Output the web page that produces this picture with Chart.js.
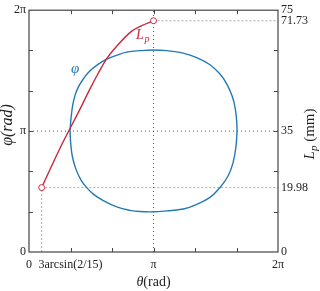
<!DOCTYPE html>
<html>
<head>
<meta charset="utf-8">
<script src="https://cdn.jsdelivr.net/npm/chart.js@4.4.0/dist/chart.umd.min.js"></script>
<style>
  html, body { margin: 0; padding: 0; background: #fff; }
</style>
</head>
<body>
<canvas id="chartCanvas" width="320" height="291"></canvas>
<script>
// tick positions and labels
var thetaTicks = [0, Math.PI / 3, 2 * Math.PI / 3, Math.PI, 4 * Math.PI / 3, 5 * Math.PI / 3, 2 * Math.PI];
var thetaLabels = ['0', '3arcsin(2/15)', '', 'π', '', '', '2π'];
var phiTicks = [0, Math.PI / 3, 2 * Math.PI / 3, Math.PI, 4 * Math.PI / 3, 5 * Math.PI / 3, 2 * Math.PI];
var phiLabels = ['0', '', '', 'π', '', '', '2π'];
var lpTicks = [0, 19.98, 37.5, 71.73, 75];
var lpLabels = ['0', '19.98', '35', '71.73', '75'];

// phi loop (rad vs rad)
var loopTheta = [1.035, 1.060, 1.103, 1.161, 1.244, 1.370, 1.539, 1.749, 1.961, 2.213, 2.465, 2.801, 3.142,
                 3.475, 3.894, 4.232, 4.567, 4.820, 4.989, 5.135, 5.211, 5.241, 5.249,
                 5.223, 5.148, 5.022, 4.820, 4.567, 4.232, 3.894, 3.475, 3.142,
                 2.801, 2.549, 2.213, 1.875, 1.623, 1.469, 1.325, 1.186, 1.093, 1.052, 1.035];
var loopPhi = [3.147, 3.470, 3.814, 4.070, 4.283, 4.496, 4.711, 4.880, 5.009, 5.111, 5.193, 5.232, 5.250,
               5.232, 5.168, 5.052, 4.865, 4.624, 4.368, 4.026, 3.685, 3.385, 3.147,
               2.744, 2.316, 1.975, 1.675, 1.418, 1.239, 1.116, 1.069, 1.044,
               1.051, 1.082, 1.172, 1.334, 1.505, 1.659, 1.847, 2.147, 2.488, 2.829, 3.147];

// Lp curve (rad vs mm)
var lpTheta = [0.32, 0.782, 1.035, 1.287, 1.539, 1.754, 1.961, 2.233, 2.592, 2.844, 3.1416];
var lpValue = [19.98, 32.2, 38.3, 44.3, 50.6, 55.6, 60.0, 64.1, 68.5, 70.2, 71.73];

// guide lines
var piRef = 3.1416;
var twoPi = 6.2832;

var blue = '#2479b5';
var red = '#c8283e';
var serif = "'Liberation Serif', 'Times New Roman', serif";
var tickFont = { family: serif, size: 12 };

function toPoints(xs, ys) {
    var pts = [];
    for (var i = 0; i < xs.length; i++) {
        pts.push({ x: xs[i], y: ys[i] });
    }
    return pts;
}

var decoPlugin = {
    id: 'deco',
    afterDraw: function (chart) {
        var ctx = chart.ctx;
        var a = chart.chartArea;
        var sx = chart.scales.x;
        var sy = chart.scales.y;
        ctx.save();

        // box
        ctx.strokeStyle = '#454545';
        ctx.lineWidth = 1.2;
        ctx.strokeRect(a.left, a.top, a.right - a.left, a.bottom - a.top);

        // inward ticks
        ctx.lineWidth = 1;
        ctx.beginPath();
        for (var i = 1; i < thetaTicks.length - 1; i++) {
            var px = Math.round(sx.getPixelForValue(thetaTicks[i])) + 0.5;
            ctx.moveTo(px, a.bottom); ctx.lineTo(px, a.bottom - 4);
            ctx.moveTo(px, a.top); ctx.lineTo(px, a.top + 4);
        }
        for (var j = 1; j < phiTicks.length - 1; j++) {
            var py = Math.round(sy.getPixelForValue(phiTicks[j])) + 0.5;
            ctx.moveTo(a.left, py); ctx.lineTo(a.left + 4, py);
            ctx.moveTo(a.right, py); ctx.lineTo(a.right - 4, py);
        }
        ctx.stroke();

        ctx.fillStyle = '#222';
        ctx.textBaseline = 'alphabetic';

        // x title
        ctx.font = 'italic 14px ' + serif;
        var w1 = ctx.measureText('θ').width;
        ctx.font = '14px ' + serif;
        var w2 = ctx.measureText('(rad)').width;
        var x0 = 153.5 - (w1 + w2) / 2;
        ctx.font = 'italic 14px ' + serif;
        ctx.fillText('θ', x0, 286);
        ctx.font = '14px ' + serif;
        ctx.fillText('(rad)', x0 + w1, 286);

        // left title
        ctx.save();
        ctx.translate(12, 125);
        ctx.rotate(-Math.PI / 2);
        ctx.font = 'italic 16px ' + serif;
        ctx.textAlign = 'center';
        ctx.fillText('φ(rad)', 0, 0);
        ctx.restore();

        // right title
        ctx.save();
        ctx.translate(314, 134);
        ctx.rotate(-Math.PI / 2);
        ctx.font = 'italic 15px ' + serif;
        var wl = ctx.measureText('L').width;
        ctx.font = 'italic 11px ' + serif;
        var wp = ctx.measureText('p').width;
        ctx.font = '15px ' + serif;
        var wm = ctx.measureText(' (mm)').width;
        var s = -(wl + wp + wm) / 2;
        ctx.font = 'italic 15px ' + serif;
        ctx.fillText('L', s, 0);
        ctx.font = 'italic 11px ' + serif;
        ctx.fillText('p', s + wl, 3);
        ctx.font = '15px ' + serif;
        ctx.fillText(' (mm)', s + wl + wp, 0);
        ctx.restore();

        // curve labels
        ctx.fillStyle = blue;
        ctx.font = 'italic 15px ' + serif;
        ctx.fillText('φ', 71, 73);
        ctx.fillStyle = red;
        ctx.font = 'italic 14px ' + serif;
        ctx.fillText('L', 136, 38.5);
        ctx.font = 'italic 10px ' + serif;
        ctx.fillText('p', 144.5, 41.5);

        ctx.restore();
    }
};

var endRadius = function (c) {
    return (c.dataIndex === 0 || c.dataIndex === lpTheta.length - 1) ? 3 : 0;
};

var chart = new Chart(document.getElementById('chartCanvas').getContext('2d'), {
    type: 'scatter',
    data: {
        datasets: [
            {
                label: 'Lp',
                data: toPoints(lpTheta, lpValue),
                yAxisID: 'lp',
                showLine: true,
                borderColor: red,
                borderWidth: 1.4,
                cubicInterpolationMode: 'monotone',
                pointRadius: endRadius,
                pointBorderColor: red,
                pointBackgroundColor: '#fff',
                pointBorderWidth: 1
            },
            {
                label: 'phi',
                data: toPoints(loopTheta, loopPhi),
                yAxisID: 'y',
                showLine: true,
                borderColor: blue,
                borderWidth: 1.4,
                tension: 0.4,
                pointRadius: 0
            },
            {
                data: [{ x: piRef, y: 0 }, { x: piRef, y: twoPi }],
                yAxisID: 'y',
                showLine: true,
                borderColor: '#555',
                borderWidth: 1,
                borderDash: [1, 3],
                pointRadius: 0
            },
            {
                data: [{ x: 0, y: piRef }, { x: twoPi, y: piRef }],
                yAxisID: 'y',
                showLine: true,
                borderColor: '#555',
                borderWidth: 1,
                borderDash: [1, 3],
                pointRadius: 0
            },
            {
                data: [{ x: lpTheta[0], y: 0 }, { x: lpTheta[0], y: lpValue[0] }, { x: twoPi, y: lpValue[0] }],
                yAxisID: 'lp',
                showLine: true,
                borderColor: '#a8a8a8',
                borderWidth: 1,
                borderDash: [2, 2],
                pointRadius: 0
            },
            {
                data: [{ x: lpTheta[lpTheta.length - 1], y: lpValue[lpValue.length - 1] }, { x: twoPi, y: lpValue[lpValue.length - 1] }],
                yAxisID: 'lp',
                showLine: true,
                borderColor: '#a8a8a8',
                borderWidth: 1,
                borderDash: [2, 2],
                pointRadius: 0
            }
        ]
    },
    options: {
        responsive: false,
        animation: false,
        layout: { padding: { top: 7 } },
        plugins: { legend: { display: false }, tooltip: { enabled: false } },
        scales: {
            x: {
                type: 'linear',
                position: 'bottom',
                min: 0,
                max: 2 * Math.PI,
                grid: { display: false, drawTicks: false },
                border: { display: false },
                afterBuildTicks: function (scale) {
                    scale.ticks = thetaTicks.map(function (v) { return { value: v }; });
                },
                afterFit: function (scale) { scale.height = 39; },
                ticks: {
                    autoSkip: false, maxRotation: 0, padding: 6, color: '#222', font: tickFont,
                    callback: function (v, i) { return thetaLabels[i]; }
                }
            },
            y: {
                type: 'linear',
                position: 'left',
                min: 0,
                max: 2 * Math.PI,
                grid: { display: false, drawTicks: false },
                border: { display: false },
                afterBuildTicks: function (scale) {
                    scale.ticks = phiTicks.map(function (v) { return { value: v }; });
                },
                afterFit: function (scale) { scale.width = 29; },
                ticks: {
                    autoSkip: false, padding: 3, color: '#222', font: tickFont,
                    callback: function (v, i) { return phiLabels[i]; }
                }
            },
            lp: {
                type: 'linear',
                position: 'right',
                min: 0,
                max: 75,
                grid: { display: false, drawTicks: false },
                border: { display: false },
                afterBuildTicks: function (scale) {
                    scale.ticks = lpTicks.map(function (v) { return { value: v }; });
                },
                afterFit: function (scale) { scale.width = 42; },
                ticks: {
                    autoSkip: false, padding: 3, color: '#222', font: tickFont,
                    callback: function (v, i) { return lpLabels[i]; }
                }
            }
        }
    },
    plugins: [decoPlugin]
});
</script>
</body>
</html>
